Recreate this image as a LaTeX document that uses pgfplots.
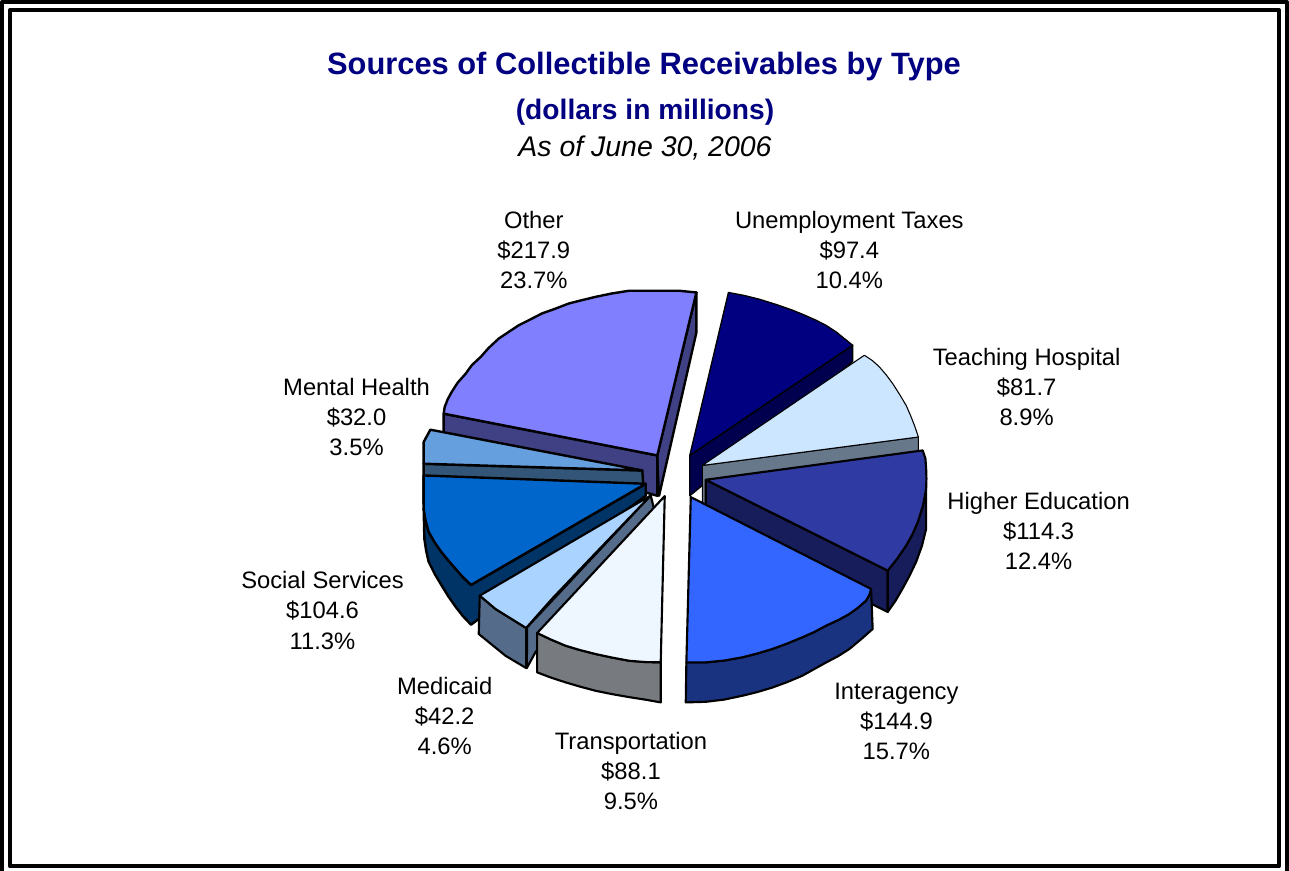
\documentclass[border=0pt]{standalone}
\usepackage{pgfplots}
\pgfplotsset{compat=1.18}
\usepackage{fontspec}
\setmainfont{Liberation Sans}

% slice colours: top face and wall
\definecolor{otherT}{HTML}{8080FF}\definecolor{otherW}{HTML}{404085}
\definecolor{unempT}{HTML}{000080}\definecolor{unempW}{HTML}{00004F}
\definecolor{teachT}{HTML}{CCE6FF}\definecolor{teachW}{HTML}{66788A}
\definecolor{higherT}{HTML}{2F3AA3}\definecolor{higherW}{HTML}{171D5A}
\definecolor{interT}{HTML}{3366FF}\definecolor{interW}{HTML}{1A3380}
\definecolor{transT}{HTML}{EEF6FF}\definecolor{transW}{HTML}{777B80}
\definecolor{mediT}{HTML}{AAD4FF}\definecolor{mediW}{HTML}{556B8A}
\definecolor{socT}{HTML}{0066CC}\definecolor{socW}{HTML}{003366}
\definecolor{mentT}{HTML}{669FDD}\definecolor{mentW}{HTML}{335577}
\definecolor{titleblue}{HTML}{000080}

% one data label: name, amount and share on three lines
\newcommand{\slicelabel}[5]{%
  \node[anchor=base,font=\labelfont] at (axis cs:#1,#2) {#3};
  \node[anchor=base,font=\labelfont] at (axis cs:#1,#2+30) {#4};
  \node[anchor=base,font=\labelfont] at (axis cs:#1,#2+60) {#5};
}
\newcommand{\labelfont}{\fontsize{17.8}{20}\selectfont}

\begin{document}
\begin{tikzpicture}
\begin{axis}[
  scale only axis, width=966.75pt, height=653.25pt,
  xmin=0, xmax=1289, ymin=0, ymax=871, y dir=reverse,
  axis lines=none, clip=true, no markers,
  every axis plot/.append style={line join=round},
]
% double page frame
\addplot[black, line width=3pt] coordinates {(4,4) (1287,4) (1287,875) (4,875)} -- cycle;
\addplot[black, line width=3pt] coordinates {(12,12) (1279,12) (1279,867) (12,867)} -- cycle;

% Other
\addplot[draw=black, line width=1.8pt, fill=otherW] coordinates {(697.3,294) (697.3,334) (660,497) (658,457)} -- cycle;
\addplot[draw=black, line width=1.8pt, fill=otherW] coordinates {(445,415) (658.3,456.7) (658.3,497) (445,436)} -- cycle;
\addplot[draw=black, line width=1.8pt, fill=otherT] coordinates {(658.3,456.7) (697.3,294) (680,292.3) (653,292.3) (630,292.3) (613,295) (597,298.3) (583,301.7) (570,305) (557,310) (543,315) (532,320.7) (520,326.7) (510,333.3) (500,340) (490,349.3) (482,358.3) (473,366.7) (467,375) (459,384) (453,393.3) (449,400.7) (446,408.3) (445,415)} -- cycle;

% Unemployment Taxes
\addplot[draw=black, line width=1pt, fill=unempW] coordinates {(853.3,346.7) (690.7,456.7) (690.7,497) (853.3,363)} -- cycle;
\addplot[draw=black, line width=1pt, fill=unempT] coordinates {(690.7,456.7) (729.3,294) (745,297) (760,300.7) (777,306) (793.3,311.7) (805,316.5) (816.7,321.7) (827,327) (836.7,333.3) (845,340) (853.3,346.7)} -- cycle;

% Teaching Hospital
\addplot[draw=black, line width=0.8pt, fill=teachW] coordinates {(919,438.3) (703.3,466.7) (703.3,507) (919,478)} -- cycle;
\addplot[draw=black, line width=0.8pt, fill=teachT] coordinates {(703.3,466.7) (865,356.7) (873,362) (880,368.3) (887,376.5) (893.3,385) (900,395.5) (906.7,406.7) (911,416.5) (915,426.7) (917,432.5) (919,438.3)} -- cycle;

% Mental Health
\addplot[draw=black, line width=1.8pt, fill=mentW] coordinates {(425,465) (643.3,471.7) (645,497) (425,505)} -- cycle;
\addplot[draw=black, line width=1.8pt, fill=mentT] coordinates {(643.3,471.7) (431.7,431) (425,443.3) (425,465)} -- cycle;

% Social Services
\addplot[draw=black, line width=1.8pt, fill=socW] coordinates {(425,510) (427,522) (430,533) (436,543.5) (443,553.5) (450,562) (457,570) (464,578) (472.3,586) (646.7,485) (646.7,497) (472.3,625.7) (464,617) (457,608) (450,598) (443,586.7) (436,575) (430,563) (427.5,552) (425.7,540)} -- cycle;
\addplot[draw=black, line width=1.8pt, fill=socT] coordinates {(646.7,485) (425,476.7) (425,510) (427,522) (430,533) (436,543.5) (443,553.5) (450,562) (457,570) (464,578) (472.3,586)} -- cycle;

% Higher Education
\addplot[draw=black, line width=1.6pt, fill=higherW] coordinates {(706.7,481) (888.3,571.7) (888.3,613) (706.7,522)} -- cycle;
\addplot[draw=black, line width=1.6pt, fill=higherW] coordinates {(888.3,571.7) (898,559.5) (906.7,546.7) (913,535.5) (918.3,523.3) (923.5,507) (926.7,490) (926.7,530) (922.5,547) (916.7,563) (910,577) (903,590) (896,602) (888.3,613)} -- cycle;
\addplot[draw=black, line width=1.6pt, fill=higherT] coordinates {(706.7,481) (923.3,451.7) (926,460) (926.7,470) (927,480) (926.7,490) (923.5,507) (918.3,523.3) (913,535.5) (906.7,546.7) (898,559.5) (888.3,571.7)} -- cycle;

% Medicaid
\addplot[draw=black, line width=1.6pt, fill=mediW] coordinates {(528.3,628.3) (651.7,496.7) (655,510) (536.7,653) (528,669)} -- cycle;
\addplot[draw=black, line width=1.6pt, fill=mediW] coordinates {(481,596.7) (496.7,610) (527.3,629) (527.3,669) (506.7,656.7) (480,635)} -- cycle;
\addplot[draw=black, line width=1.6pt, fill=mediT] coordinates {(651.7,496.7) (481,596.7) (496.7,610) (527.3,629) (553,600) (593,558)} -- cycle;

% Transportation
\addplot[draw=black, line width=1.6pt, fill=transW] coordinates {(538.3,634) (552,640.5) (566.7,646.7) (581,651) (596.7,655) (613,658.5) (630,661.7) (646,663) (661.7,663.3) (661.7,703.3) (646,700.5) (630,698) (613,695) (596.7,691.7) (581,687.5) (566.7,683.3) (552,678.5) (538.3,673.3)} -- cycle;
\addplot[draw=black, line width=1.6pt, fill=transT] coordinates {(665.7,497.3) (538.3,634) (552,640.5) (566.7,646.7) (581,651) (596.7,655) (613,658.5) (630,661.7) (646,663) (661.7,663.3)} -- cycle;

% Interagency
\addplot[draw=black, line width=1.6pt, fill=interW] coordinates {(871.7,590) (870,596) (866.7,601.7) (859,608.5) (850,615) (839,621) (826.7,626.7) (815,633) (803,638.3) (788,644.5) (773,650) (758,654.5) (743,658.3) (725,661.5) (707,663.3) (687.3,663.3) (686.7,703.3) (706.7,702.7) (725,700.5) (743,696.7) (758,693) (773,688.5) (788,683) (803,676.7) (815,670) (826.7,663.5) (839,657) (850,650) (862,640) (873.3,630)} -- cycle;
\addplot[draw=black, line width=1.6pt, fill=interT] coordinates {(691.7,498.3) (871.7,590) (870,596) (866.7,601.7) (859,608.5) (850,615) (839,621) (826.7,626.7) (815,633) (803,638.3) (788,644.5) (773,650) (758,654.5) (743,658.3) (725,661.5) (707,663.3) (687.3,663.3)} -- cycle;

% headings
\node[anchor=base, text=titleblue, font=\fontsize{23.1}{27}\selectfont\bfseries] at (axis cs:645,76) {Sources of Collectible Receivables by Type};
\node[anchor=base, text=titleblue, font=\fontsize{21.1}{25}\selectfont\bfseries] at (axis cs:646,121) {(dollars in millions)};
\node[anchor=base, font=\fontsize{21.3}{25}\selectfont\itshape] at (axis cs:646,158) {As of June 30, 2006};

% slice labels
\slicelabel{535}{230}{Other}{\$217.9}{23.7\%}
\slicelabel{850}{230}{Unemployment Taxes}{\$97.4}{10.4\%}
\slicelabel{1027}{367}{Teaching Hospital}{\$81.7}{8.9\%}
\slicelabel{1039}{511}{Higher Education}{\$114.3}{12.4\%}
\slicelabel{897}{700}{Interagency}{\$144.9}{15.7\%}
\slicelabel{632}{750}{Transportation}{\$88.1}{9.5\%}
\slicelabel{446}{695}{Medicaid}{\$42.2}{4.6\%}
\slicelabel{324}{590}{Social Services}{\$104.6}{11.3\%}
\slicelabel{358}{397}{Mental Health}{\$32.0}{3.5\%}
\end{axis}
\end{tikzpicture}
\end{document}
